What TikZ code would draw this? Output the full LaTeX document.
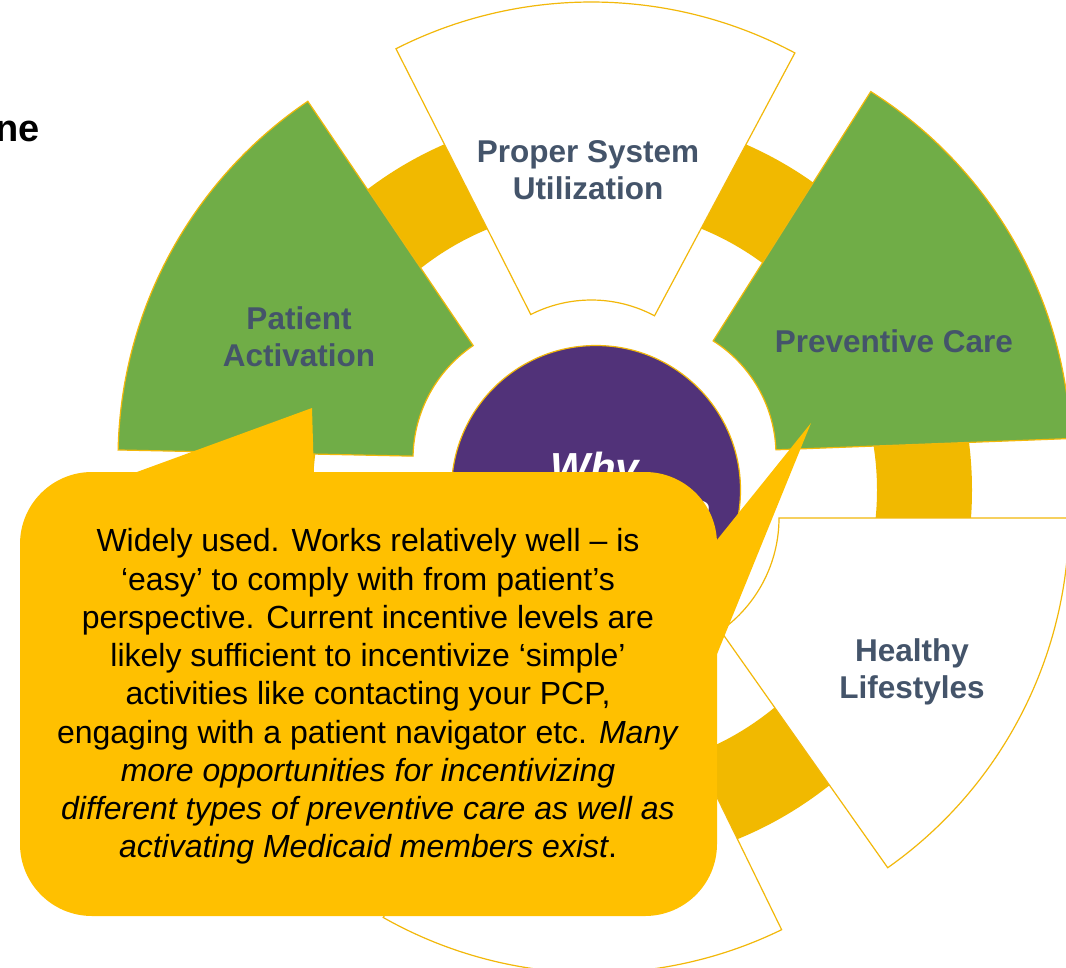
\documentclass[tikz,border=0pt]{standalone}
\usepackage{fontspec}
\setmainfont{Liberation Sans}
\usetikzlibrary{calc}

\definecolor{ringgold}{RGB}{241,185,0}
\definecolor{calloutgold}{RGB}{255,192,0}
\definecolor{edgegold}{RGB}{242,184,10}
\definecolor{leafgreen}{RGB}{112,173,71}
\definecolor{hubpurple}{RGB}{81,50,121}
\definecolor{labelslate}{RGB}{68,84,106}

\begin{document}
\begin{tikzpicture}[x=1pt,y=1pt,
  petal/.style={draw=edgegold, line width=1.2pt, line join=miter},
  petallabel/.style={text=labelslate, inner sep=0pt, align=center,
    font=\fontsize{31.5}{37}\selectfont\bfseries},
  hubtext/.style={text=white, inner sep=0pt, align=center,
    font=\fontsize{42}{48}\selectfont\bfseries\itshape},
  notetext/.style={text=black, inner sep=0pt, align=center,
    font=\fontsize{32}{38.25}\selectfont},
  titletext/.style={text=black, inner sep=0pt,
    font=\fontsize{38}{44}\selectfont\bfseries}]

\useasboundingbox (0,0) rectangle (1066,-967);
\fill[white] (0,0) rectangle (1066,-967);

% cut-off heading at the top left
\node[titletext, anchor=base west] (heading) at (-5,-141) {ne};

% gold ring behind the segments
\coordinate (C) at (595,-490);
\fill[ringgold, even odd rule] (C) circle[radius=377pt] (C) circle[radius=282pt];

% exploded annular segments: centre x / centre y / start / end angle / inner r / outer r / fill
\foreach \ox/\oy/\aa/\ab/\ri/\ro/\col in {
    591.4/434/61.9/116.9/134/432/white,
    550/459/124.1/178.8/137/432/leafgreen,
    641/455/2.2/57.7/135/430/leafgreen,
    641/518/-54.8/0/138/428/white,
    594/545/-119.5/-64/136/428/white}{
  \filldraw[petal, fill=\col]
    ($(\ox,-\oy)+(\aa:\ro)$) arc[start angle=\aa, end angle=\ab, radius=\ro pt]
    -- ($(\ox,-\oy)+(\ab:\ri)$) arc[start angle=\ab, end angle=\aa, radius=\ri pt]
    -- cycle;
}

% central hub
\filldraw[fill=hubpurple, draw=edgegold, line width=1.2pt] (596,-490) circle[radius=144.5pt];
\node[hubtext] (hub) at (595,-491) {Why\\Incentives?};

% segment labels
\node[petallabel] (psu) at (588,-170.2) {Proper System\\Utilization};
\node[petallabel] (pa) at (299,-337.2) {Patient\\Activation};
\node[petallabel, anchor=base] (pc) at (894,-352) {Preventive Care};
\node[petallabel] (hl) at (912,-671.5) {Healthy\\Lifestyles};

% callout box with its two pointers
\fill[calloutgold, rounded corners=72pt] (20,-472) rectangle (717,-916);
\fill[calloutgold] (115,-480) -- (312,-408) -- (314.1,-480) -- cycle;
\fill[calloutgold] (700,-561) -- (811,-423) -- (700,-696) -- cycle;

\node[notetext] (note) at (368,-696.5) {Widely used. Works relatively well – is\\
  ‘easy’ to comply with from patient’s\\
  perspective. Current incentive levels are\\
  likely sufficient to incentivize ‘simple’\\
  activities like contacting your PCP,\\
  engaging with a patient navigator etc. \textit{Many}\\
  \textit{more opportunities for incentivizing}\\
  \textit{different types of preventive care as well as}\\
  \textit{activating Medicaid members exist}.};

\end{tikzpicture}
\end{document}
